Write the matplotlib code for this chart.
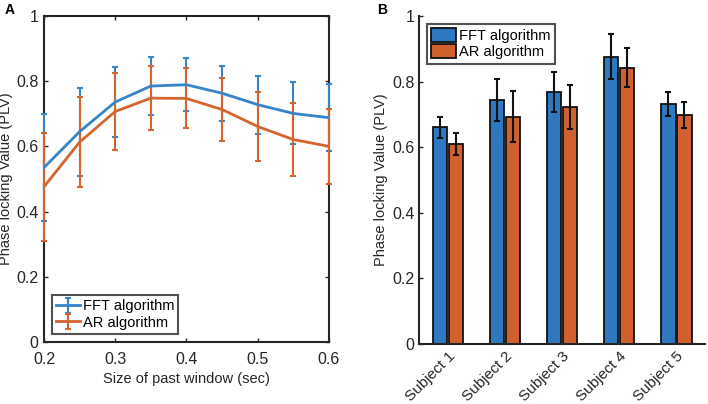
import numpy as np
import matplotlib.pyplot as plt

plt.rcParams['font.family'] = ['Liberation Sans', 'DejaVu Sans']

# Panel A: PLV vs past window size
window = [0.2, 0.25, 0.3, 0.35, 0.4, 0.45, 0.5, 0.55, 0.6]
fft_mean = [0.535, 0.645, 0.736, 0.785, 0.789, 0.763, 0.728, 0.701, 0.688]
fft_err = [0.165, 0.135, 0.107, 0.090, 0.082, 0.084, 0.089, 0.095, 0.103]
ar_mean = [0.476, 0.613, 0.707, 0.748, 0.747, 0.713, 0.661, 0.621, 0.600]
ar_err = [0.165, 0.139, 0.117, 0.099, 0.092, 0.097, 0.106, 0.112, 0.116]

# Panel B: PLV per subject
subjects = ['Subject 1', 'Subject 2', 'Subject 3', 'Subject 4', 'Subject 5']
fft_subj = [0.662, 0.745, 0.769, 0.877, 0.732]
fft_subj_err = [0.032, 0.064, 0.061, 0.068, 0.036]
ar_subj = [0.610, 0.694, 0.723, 0.843, 0.698]
ar_subj_err = [0.033, 0.078, 0.068, 0.060, 0.040]

blue_line = '#3585c8'
orange_line = '#d5652f'
blue_bar = '#2e78c2'
orange_bar = '#d0602e'
txt = '#262626'

fig = plt.figure(figsize=(7.08, 4.04), dpi=100)

# ---- A ----
ax = fig.add_axes([0.0621, 0.1535, 0.4025, 0.807])
for m, e, c, lab in [(fft_mean, fft_err, blue_line, 'FFT algorithm'),
                     (ar_mean, ar_err, orange_line, 'AR algorithm')]:
    eb = ax.errorbar(window, m, yerr=e, color=c, lw=2, elinewidth=1.5,
                     capsize=2.5, capthick=1.5, label=lab, zorder=3)
    for art in eb.lines[1]:
        art.set_clip_on(False)
    for art in eb.lines[2]:
        art.set_clip_on(False)
        art.set_zorder(3)
ax.set_xlim(0.2, 0.6)
ax.set_ylim(0, 1)
ax.set_xticks([0.2, 0.3, 0.4, 0.5, 0.6])
ax.set_xticklabels(['0.2', '0.3', '0.4', '0.5', '0.6'])
ax.set_yticks([0, 0.2, 0.4, 0.6, 0.8, 1])
ax.set_yticklabels(['0', '0.2', '0.4', '0.6', '0.8', '1'])
ax.tick_params(direction='in', top=True, right=True, labelsize=11.5,
               colors=txt, length=3, width=1)
ax.tick_params(axis='x', pad=7)
ax.tick_params(axis='y', pad=4)
for s in ax.spines.values():
    s.set_linewidth(1.5)
    s.set_color(txt)
    s.set_zorder(2)
ax.set_xlabel('Size of past window (sec)', fontsize=10.5, color=txt, labelpad=4)
ax.set_ylabel('Phase locking Value (PLV)', fontsize=10.5, color=txt, labelpad=2)
leg = ax.legend(loc='lower left', fontsize=10.5, frameon=True, fancybox=False,
                borderpad=0.3, handlelength=1.6, handletextpad=0.2,
                labelspacing=0.15, borderaxespad=0.55)
leg.get_frame().set_edgecolor(txt)
leg.get_frame().set_linewidth(1.5)
fig.text(0.006, 0.975, 'A', fontsize=10, fontweight='bold', va='center')

# ---- B ----
bx = fig.add_axes([0.5922, 0.1485, 0.4035, 0.811])
x = np.arange(1, len(subjects) + 1)
w = 0.25
bx.bar(x - 0.14, fft_subj, w, color=blue_bar, edgecolor='#111111', lw=1.3,
       label='FFT algorithm')
bx.bar(x + 0.14, ar_subj, w, color=orange_bar, edgecolor='#111111', lw=1.3,
       label='AR algorithm')
bx.errorbar(x - 0.14, fft_subj, yerr=fft_subj_err, fmt='none', ecolor='#111111',
            elinewidth=1.5, capsize=2.5, capthick=1.5)
bx.errorbar(x + 0.14, ar_subj, yerr=ar_subj_err, fmt='none', ecolor='#111111',
            elinewidth=1.5, capsize=2.5, capthick=1.5)
bx.set_xlim(0.5, 5.5)
bx.set_ylim(0, 1)
bx.set_xticks(x)
bx.set_xticklabels(subjects, rotation=45, ha='right', rotation_mode='anchor')
bx.set_yticks([0, 0.2, 0.4, 0.6, 0.8, 1])
bx.set_yticklabels(['0', '0.2', '0.4', '0.6', '0.8', '1'])
bx.tick_params(direction='in', labelsize=11.5, colors=txt, length=3, width=1)
bx.tick_params(axis='x', labelsize=11, pad=4)
bx.spines['top'].set_visible(False)
bx.spines['right'].set_visible(False)
for s in ['left', 'bottom']:
    bx.spines[s].set_linewidth(1.5)
    bx.spines[s].set_color(txt)
bx.set_ylabel('Phase locking Value (PLV)', fontsize=10.5, color=txt, labelpad=3)
leg2 = bx.legend(loc='upper left', fontsize=10.5, frameon=True, fancybox=False,
                 borderpad=0.3, handlelength=1.7, handleheight=1.1,
                 handletextpad=0.2, labelspacing=0.1, borderaxespad=0.5)
leg2.get_frame().set_edgecolor(txt)
leg2.get_frame().set_linewidth(1.5)
fig.text(0.533, 0.975, 'B', fontsize=10, fontweight='bold', va='center')

fig.savefig('out.png', dpi=100)
